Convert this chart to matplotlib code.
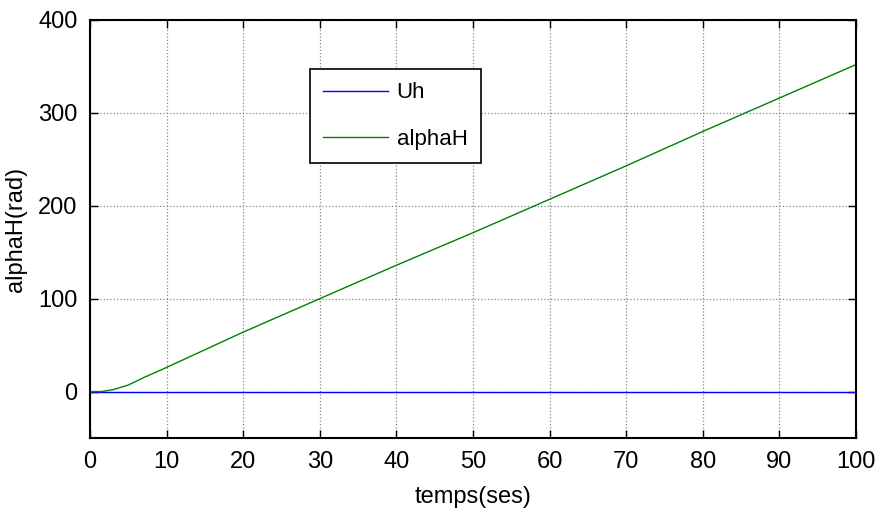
import matplotlib
matplotlib.use("Agg")
from matplotlib import pyplot as plt

# time (s) and the two signals
t = [0, 1.5, 3, 5, 7, 10, 15, 20, 25, 30, 40, 50, 60, 70, 80, 90, 100]
alphaH = [0, 0, 2, 7, 15, 26, 45, 64, 82, 100, 136, 171, 207, 243, 280, 316, 352]
Uh = [0] * len(t)

xticks = list(range(0, 101, 10))
yticks = [0, 100, 200, 300, 400]

plt.rcParams['font.family'] = ['Liberation Sans', 'DejaVu Sans']

fig = plt.figure(figsize=(8.77, 5.2), dpi=100)
ax = fig.add_axes([90 / 877, 1 - 438 / 520, (856 - 90) / 877, (438 - 20) / 520])

ax.plot(t, Uh, color="#0000ff", lw=1, label="Uh")
ax.plot(t, alphaH, color="#008000", lw=1, label="alphaH")

ax.set_xlim(0, 100)
ax.set_ylim(-50, 400)
ax.set_xticks(xticks)
ax.set_yticks(yticks)
ax.tick_params(direction="in", top=True, right=True, length=6, width=1,
               labelsize=17, pad=9)
ax.grid(True, color="#888888", linestyle=":", linewidth=0.9)
for s in ax.spines.values():
    s.set_linewidth(1.5)

ax.set_xlabel("temps(ses)", fontsize=17, labelpad=10)
ax.set_ylabel("alphaH(rad)", fontsize=17, labelpad=8)

leg = ax.legend(loc="upper left", bbox_to_anchor=((310 - 90) / 766, 1 - (69 - 20) / 418),
                borderaxespad=0, fontsize=16, frameon=True, fancybox=False,
                edgecolor="black", framealpha=1, handlelength=2.9,
                handletextpad=0.4, borderpad=0.6, labelspacing=1.15)
leg.get_frame().set_linewidth(1.2)

fig.savefig("out.png", dpi=100)
